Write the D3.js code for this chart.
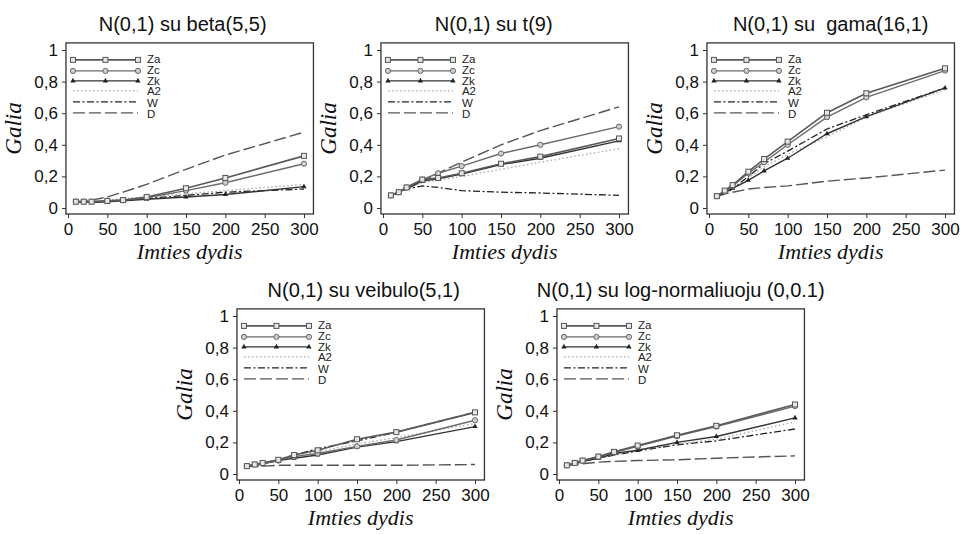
<!DOCTYPE html>
<html>
<head>
<meta charset="utf-8">
<script src="https://cdn.jsdelivr.net/npm/d3@7"></script>
<style>
body { margin: 0; background: #fff; }
svg { display: block; }
</style>
</head>
<body>
<div id="chart"></div>
<script>
// sample sizes on the x axis
const sampleSizes = [10, 20, 30, 50, 70, 100, 150, 200, 300];
const seriesNames = ['Za', 'Zc', 'Zk', 'A2', 'W', 'D'];
const xTicks = [0, 50, 100, 150, 200, 250, 300];
const yTicks = [0, 0.2, 0.4, 0.6, 0.8, 1];
const yTickLabels = ['0', '0,2', '0,4', '0,6', '0,8', '1'];
const titles = [
    'N(0,1) su beta(5,5)',
    'N(0,1) su t(9)',
    'N(0,1) su  gama(16,1)',
    'N(0,1) su veibulo(5,1)',
    'N(0,1) su log-normaliuoju (0,0.1)'
];

// beta(5,5)
const betaZa = [0.04, 0.04, 0.04, 0.045, 0.05, 0.07, 0.125, 0.19, 0.33];
const betaZc = [0.04, 0.04, 0.04, 0.045, 0.05, 0.065, 0.11, 0.16, 0.28];
const betaZk = [0.04, 0.04, 0.035, 0.04, 0.045, 0.055, 0.07, 0.085, 0.135];
const betaA2 = [0.04, 0.04, 0.045, 0.05, 0.06, 0.07, 0.09, 0.11, 0.15];
const betaW  = [0.04, 0.04, 0.04, 0.045, 0.05, 0.06, 0.08, 0.10, 0.12];
const betaD  = [0.04, 0.045, 0.05, 0.07, 0.10, 0.15, 0.245, 0.335, 0.48];

// t(9)
const tZa = [0.08, 0.10, 0.13, 0.18, 0.19, 0.22, 0.28, 0.325, 0.44];
const tZc = [0.08, 0.10, 0.13, 0.18, 0.22, 0.265, 0.345, 0.40, 0.515];
const tZk = [0.075, 0.10, 0.125, 0.17, 0.185, 0.215, 0.275, 0.315, 0.425];
const tA2 = [0.08, 0.10, 0.12, 0.16, 0.175, 0.20, 0.245, 0.29, 0.375];
const tW  = [0.08, 0.10, 0.12, 0.14, 0.13, 0.11, 0.10, 0.095, 0.08];
const tD  = [0.08, 0.10, 0.12, 0.17, 0.22, 0.29, 0.40, 0.49, 0.64];

// gama(16,1)
const gamaZa = [0.075, 0.11, 0.145, 0.23, 0.31, 0.42, 0.603, 0.726, 0.884];
const gamaZc = [0.075, 0.105, 0.14, 0.22, 0.29, 0.40, 0.575, 0.70, 0.87];
const gamaZk = [0.07, 0.10, 0.125, 0.175, 0.235, 0.315, 0.47, 0.578, 0.76];
const gamaA2 = [0.07, 0.09, 0.12, 0.19, 0.26, 0.34, 0.45, 0.575, 0.75];
const gamaW  = [0.07, 0.09, 0.12, 0.20, 0.28, 0.36, 0.50, 0.59, 0.76];
const gamaD  = [0.08, 0.09, 0.10, 0.12, 0.13, 0.14, 0.17, 0.19, 0.24];

// veibulo(5,1)
const veibZa = [0.05, 0.06, 0.07, 0.09, 0.12, 0.15, 0.22, 0.265, 0.39];
const veibZc = [0.05, 0.06, 0.065, 0.085, 0.11, 0.13, 0.175, 0.215, 0.34];
const veibZk = [0.045, 0.055, 0.065, 0.085, 0.10, 0.12, 0.17, 0.205, 0.30];
const veibA2 = [0.05, 0.06, 0.07, 0.09, 0.11, 0.14, 0.19, 0.23, 0.32];
const veibW  = [0.05, 0.06, 0.07, 0.09, 0.12, 0.16, 0.21, 0.265, 0.39];
const veibD  = [0.05, 0.05, 0.05, 0.055, 0.055, 0.055, 0.055, 0.055, 0.06];

// log-normal (0,0.1)
const lognZa = [0.055, 0.07, 0.085, 0.11, 0.14, 0.18, 0.245, 0.305, 0.44];
const lognZc = [0.055, 0.07, 0.085, 0.11, 0.135, 0.175, 0.24, 0.30, 0.43];
const lognZk = [0.055, 0.065, 0.08, 0.10, 0.13, 0.15, 0.20, 0.237, 0.355];
const lognA2 = [0.055, 0.065, 0.08, 0.10, 0.12, 0.15, 0.19, 0.22, 0.33];
const lognW  = [0.055, 0.065, 0.08, 0.10, 0.12, 0.145, 0.185, 0.21, 0.285];
const lognD  = [0.055, 0.06, 0.065, 0.075, 0.08, 0.085, 0.09, 0.10, 0.115];

const panelSeries = [
    [betaZa, betaZc, betaZk, betaA2, betaW, betaD],
    [tZa, tZc, tZk, tA2, tW, tD],
    [gamaZa, gamaZc, gamaZk, gamaA2, gamaW, gamaD],
    [veibZa, veibZc, veibZk, veibA2, veibW, veibD],
    [lognZa, lognZc, lognZk, lognA2, lognW, lognD]
];

// where each panel's data origin (0,0) sits, plus title nudge
const layout = [
    {ox: 68, oy: 208, tdx: -7},
    {ox: 383, oy: 208, tdx: -11},
    {ox: 709, oy: 208, tdx: 0},
    {ox: 239, oy: 474, tdx: 3},
    {ox: 559, oy: 474, tdx: 0}
];

const styles = {
    Za: {stroke: '#595959', width: 1.6, dash: null, marker: 'square'},
    Zc: {stroke: '#6b6b6b', width: 1.4, dash: null, marker: 'circle'},
    Zk: {stroke: '#333', width: 1.4, dash: null, marker: 'triangle'},
    A2: {stroke: '#a8a8a8', width: 1.3, dash: '1.5,2.5', marker: null},
    W:  {stroke: '#222', width: 1.3, dash: '7,2.5,2,2.5', marker: null},
    D:  {stroke: '#555', width: 1.4, dash: '12,4', marker: null}
};

const svg = d3.select('#chart').append('svg')
    .attr('width', 960)
    .attr('height', 534);

const plotW = 236, plotH = 158;

function drawMarker(g, type, x, y) {
    if (type === 'square') {
        g.append('rect')
            .attr('x', x - 2.5).attr('y', y - 2.5)
            .attr('width', 5).attr('height', 5)
            .attr('fill', '#e6e6e6').attr('stroke', '#555').attr('stroke-width', 1);
    } else if (type === 'circle') {
        g.append('circle')
            .attr('cx', x).attr('cy', y).attr('r', 2.6)
            .attr('fill', '#cfcfcf').attr('stroke', '#666').attr('stroke-width', 1);
    } else if (type === 'triangle') {
        g.append('path')
            .attr('d', d3.symbol(d3.symbolTriangle, 12)())
            .attr('transform', `translate(${x},${y})`)
            .attr('fill', '#222');
    }
}

layout.forEach((p, pi) => {
    const x = d3.scaleLinear().domain([0, 300]).range([p.ox, p.ox + plotW]);
    const y = d3.scaleLinear().domain([0, 1]).range([p.oy, p.oy - plotH]);

    const left = x(-2.6), right = x(312), top = y(1.045), bottom = y(-0.038);
    const g = svg.append('g');

    // title
    g.append('text')
        .attr('x', (left + right) / 2 + p.tdx)
        .attr('y', top - 12)
        .attr('text-anchor', 'middle')
        .attr('font-family', 'Liberation Sans, Arial, sans-serif')
        .attr('font-size', '20px')
        .attr('fill', '#111')
        .style('white-space', 'pre')
        .text(titles[pi]);

    // axes
    const yAxis = d3.axisLeft(y)
        .tickValues(yTicks)
        .tickFormat((d, i) => yTickLabels[i])
        .tickSize(4)
        .tickPadding(4);
    g.append('g')
        .attr('transform', `translate(${left},0)`)
        .call(yAxis)
        .call(a => a.select('.domain').remove())
        .call(a => a.selectAll('.tick line').attr('stroke', '#333'))
        .call(a => a.selectAll('.tick text')
            .attr('font-family', 'Liberation Sans, Arial, sans-serif')
            .attr('font-size', '17px')
            .attr('fill', '#111'));

    const xAxis = d3.axisBottom(x)
        .tickValues(xTicks)
        .tickSize(4)
        .tickPadding(5);
    g.append('g')
        .attr('transform', `translate(0,${bottom})`)
        .call(xAxis)
        .call(a => a.select('.domain').remove())
        .call(a => a.selectAll('.tick line').attr('stroke', '#333'))
        .call(a => a.selectAll('.tick text')
            .attr('font-family', 'Liberation Sans, Arial, sans-serif')
            .attr('font-size', '17px')
            .attr('fill', '#111'));

    // frame
    g.append('rect')
        .attr('x', left).attr('y', top)
        .attr('width', right - left).attr('height', bottom - top)
        .attr('fill', 'none')
        .attr('stroke', '#333')
        .attr('stroke-width', 1.3);

    // axis titles
    g.append('text')
        .attr('transform', `translate(${left - 45},${(top + bottom) / 2}) rotate(-90)`)
        .attr('text-anchor', 'middle')
        .attr('font-family', 'Liberation Serif, Times New Roman, serif')
        .attr('font-style', 'italic')
        .attr('font-size', '23px')
        .attr('fill', '#111')
        .text('Galia');
    g.append('text')
        .attr('x', (left + right) / 2)
        .attr('y', bottom + 45)
        .attr('text-anchor', 'middle')
        .attr('font-family', 'Liberation Serif, Times New Roman, serif')
        .attr('font-style', 'italic')
        .attr('font-size', '22px')
        .attr('fill', '#111')
        .text('Imties dydis');

    // series, drawn back to front
    const line = d3.line()
        .x((d, i) => x(sampleSizes[i]))
        .y(d => y(d));
    const order = [5, 4, 3, 2, 1, 0];
    order.forEach(si => {
        const name = seriesNames[si];
        const st = styles[name];
        const vals = panelSeries[pi][si];
        g.append('path')
            .datum(vals)
            .attr('d', line)
            .attr('fill', 'none')
            .attr('stroke', st.stroke)
            .attr('stroke-width', st.width)
            .attr('stroke-dasharray', st.dash);
        if (st.marker) {
            vals.forEach((v, i) => drawMarker(g, st.marker, x(sampleSizes[i]), y(v)));
        }
    });

    // legend
    const rowY = [17, 28, 38, 48, 59, 70];
    const labelY = [16, 27.5, 38, 48.5, 60, 71];
    const lx0 = left + 7, lx1 = left + 72;
    seriesNames.forEach((name, si) => {
        const st = styles[name];
        const ry = top + rowY[si];
        g.append('line')
            .attr('x1', lx0).attr('x2', lx1)
            .attr('y1', ry).attr('y2', ry)
            .attr('stroke', st.stroke)
            .attr('stroke-width', st.width)
            .attr('stroke-dasharray', st.dash);
        if (st.marker) {
            [lx0, (lx0 + lx1) / 2, lx1].forEach(mx => drawMarker(g, st.marker, mx, ry));
        }
        g.append('text')
            .attr('x', left + 81)
            .attr('y', top + labelY[si])
            .attr('dy', '0.35em')
            .attr('font-family', 'Liberation Sans, Arial, sans-serif')
            .attr('font-size', '11.5px')
            .attr('fill', '#222')
            .text(name);
    });
});
</script>
</body>
</html>
